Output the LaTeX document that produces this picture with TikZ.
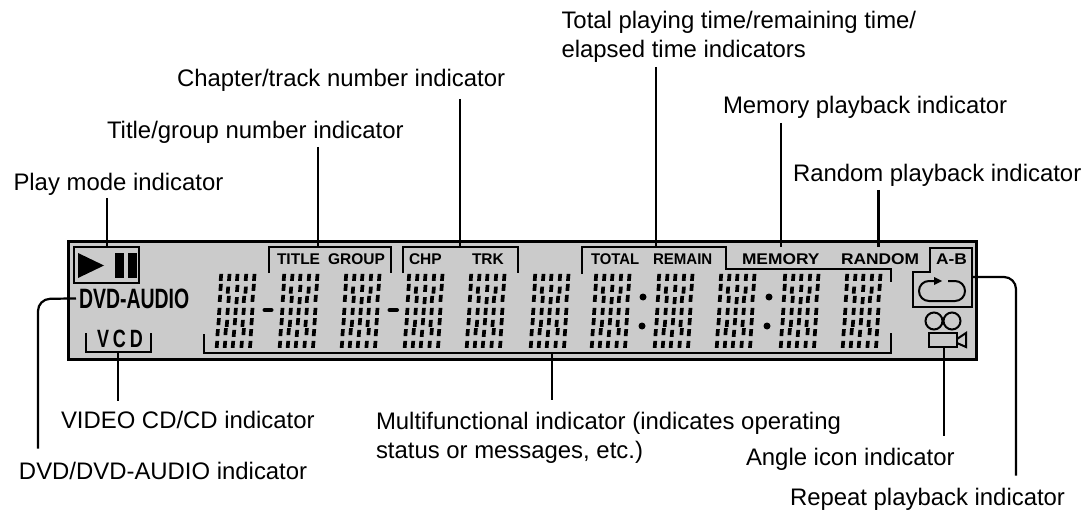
\documentclass[tikz,border=0pt]{standalone}
\usepackage{fontspec}
\setmainfont{Liberation Sans}
\definecolor{lcdgrey}{HTML}{CBCBCB}
\tikzset{
  lab/.style={inner sep=0pt,outer sep=0pt,anchor=base west,font=\fontsize{23.9}{29}\selectfont},
  lablines/.style={inner sep=0pt,outer sep=0pt,anchor=south west,align=left},
  lcdtext/.style={inner sep=0pt,outer sep=0pt,anchor=base west,font=\fontsize{15.5}{16}\selectfont\bfseries},
  conn/.style={line width=2.2pt,black},
  brk/.style={line width=2pt,black},
  frame/.style={line width=3pt,black,fill=lcdgrey},
}
\def\lcddots{0/0,8.3/0,16.3/0,25/0,33.3/0,
-.3/10,7/12.7,16.3/11,24.7/12.7,32.7/10,
-1/21,7.7/22,15.7/23.3,23/22,31.7/21,
-1.7/34,6.7/34,14.7/34,22.7/34,31.3/34,
-2.3/44.3,6/46,14/44.3,21.7/46,30.7/44.3,
-3.3/55.3,4.7/54.3,13/56,22.7/54.3,30/55.3,
-4/67,4/67,12/67,20.7/67,29.3/67}
\newcommand\lcddigit[1]{%
  \foreach \dx/\dy in \lcddots {%
    \fill ({#1+\dx-1.9},{277.3+\dy+3.5}) -- ++(3.7,0) -- ++(0.6,-7) -- ++(-3.7,0) -- cycle;
  }%
}
\begin{document}
\begin{tikzpicture}[x=1pt,y=-1pt]
\useasboundingbox (0,0) rectangle (1088,516);
% display frame
\draw[frame] (68,241) rectangle (976,359);
% play box
\draw[line width=2.5pt] (74,247) rectangle (139,283);
\fill (78,253) -- (104,265.5) -- (78,278) -- cycle;
\fill (115,253) rectangle (124,278);
\fill (128,253) rectangle (137,278);
% brackets
\draw[brk] (269,273) -- (269,247) -- (391,247) -- (391,273);
\draw[brk] (403,273) -- (403,247) -- (518,247) -- (518,273);
\draw[brk] (582,274) -- (582,247) -- (726,247) -- (726,269) -- (891,269) -- (891,282);
\draw[brk] (204,334) -- (204,353) -- (891,353) -- (891,333);
\draw[brk] (86,333) -- (86,352) -- (151,352) -- (151,333);
\draw[brk] (930,272) -- (930,247.5) -- (972,247.5) -- (972,307) -- (913,307) -- (913,272) -- cycle;
% target points of the connectors
\coordinate (tplay) at (107,247);
\coordinate (ttitle) at (318,247);
\coordinate (tchp) at (460,247);
\coordinate (ttotal) at (656,247);
\coordinate (tmem) at (781,247);
\coordinate (trand) at (878.5,247);
\coordinate (tvcd) at (118,352);
\coordinate (tmulti) at (552,353);
\coordinate (tangle) at (944,347);
\coordinate (trepeat) at (972,277);
\coordinate (krepeat) at (1016,277);
\coordinate (kdvd) at (38,299);
% display words
\node[lcdtext] (wtitle) at (277,264) {TITLE};
\node[lcdtext] (wgroup) at (328,264) {GROUP};
\node[lcdtext] (wchp) at (409,264) {CHP};
\node[lcdtext] (wtrk) at (472,264) {TRK};
\node[lcdtext] (wtotal) at (591,264) {\scalebox{.96}[1]{TOTAL}};
\node[lcdtext] (wremain) at (653,264) {\scalebox{.97}[1]{REMAIN}};
\node[lcdtext] (wmemory) at (742,264) {\scalebox{1.12}[1]{MEMORY}};
\node[lcdtext] (wrandom) at (841,264) {\scalebox{1.12}[1]{RANDOM}};
\node[lcdtext] (wab) at (936,264) {\scalebox{1.12}[1]{A-B}};
\node[inner sep=0pt,outer sep=0pt,anchor=base west,font=\fontsize{28}{30}\selectfont\bfseries] (wdvd) at (79,308) {\scalebox{.695}[1]{DVD-AUDIO}};
\node[inner sep=0pt,outer sep=0pt,anchor=base west,font=\fontsize{25}{30}\selectfont\bfseries] (wvcd) at (97,347) {\scalebox{.72}[1]{V\kern5.5pt C\kern5.5pt D}};
% digits
\foreach \d in {219,282,344,407,469,533,594,657,719,783,845} {\lcddigit{\d+1.7}}
% dashes and colons
\draw[line width=4pt,line cap=round] (264.5,310) -- (271.5,310);
\draw[line width=4pt,line cap=round] (389.5,310) -- (397,310);
\fill (643,297) circle[radius=3.5pt];
\fill (642,326) circle[radius=3.5pt];
\fill (769,297) circle[radius=3.5pt];
\fill (767,326) circle[radius=3.5pt];
% repeat icon
\draw[line width=2pt,rounded corners=9.9pt] (948,281) -- (965,281) -- (965,301) -- (919,301) -- (919,281) -- (935,281);
\fill (934,277) -- (942,281) -- (934,285) -- cycle;
% camera icon
\draw[line width=2pt] (934,321) circle[radius=8.5pt];
\draw[line width=2pt] (952,321) circle[radius=8.5pt];
\draw[line width=2pt,fill=lcdgrey] (929,333) rectangle (957,347);
\draw[line width=2pt] (957,339) -- (966,333) -- (966,347) -- (957,343);
% labels
\node[lab] (lplay) at (13.5,190) {Play mode indicator};
\node[lab] (ltitle) at (107,139) {Title/group number indicator};
\node[lab] (lchp) at (177,87) {Chapter/track number indicator};
\node[lab,lablines] (ltotal) at (561.5,62) {Total playing time/remaining time/\\elapsed time indicators};
\node[lab] (lmem) at (723,114) {Memory playback indicator};
\node[lab] (lrand) at (793,182) {Random playback indicator};
\node[lab] (lvcd) at (61,428) {VIDEO CD/CD indicator};
\node[lab] (ldvd) at (19,479) {DVD/DVD-AUDIO indicator};
\node[lab,lablines] (lmulti) at (376,463) {Multifunctional indicator (indicates operating\\status or messages, etc.)};
\node[lab] (langle) at (746,465) {Angle icon indicator};
\node[lab] (lrepeat) at (790,505) {Repeat playback indicator};
% connectors
\draw[conn,shorten <=3pt] (lplay.south -| tplay) -- (tplay);
\draw[conn,shorten <=3pt] (ltitle.south -| ttitle) -- (ttitle);
\draw[conn,shorten <=7pt] (lchp.south -| tchp) -- (tchp);
\draw[conn,shorten <=5pt] (ltotal.south -| ttotal) -- (ttotal);
\draw[conn,shorten <=4pt] (lmem.south -| tmem) -- (tmem);
\draw[conn,shorten <=3pt] (lrand.south -| trand) -- (trand);
\draw[conn,shorten <=10pt] (lvcd.north -| tvcd) -- (tvcd);
\draw[conn,shorten <=12pt] (lmulti.north -| tmulti) -- (tmulti);
\draw[conn,shorten <=12pt] (langle.north -| tangle) -- (tangle);
\draw[conn,rounded corners=12pt,shorten >=12pt] (trepeat) -- (krepeat) -- (krepeat |- lrepeat.north);
\draw[conn,rounded corners=12pt,shorten <=3pt,shorten >=13pt] (wdvd.west) -- (kdvd) -- (kdvd |- ldvd.north);
\end{tikzpicture}
\end{document}
